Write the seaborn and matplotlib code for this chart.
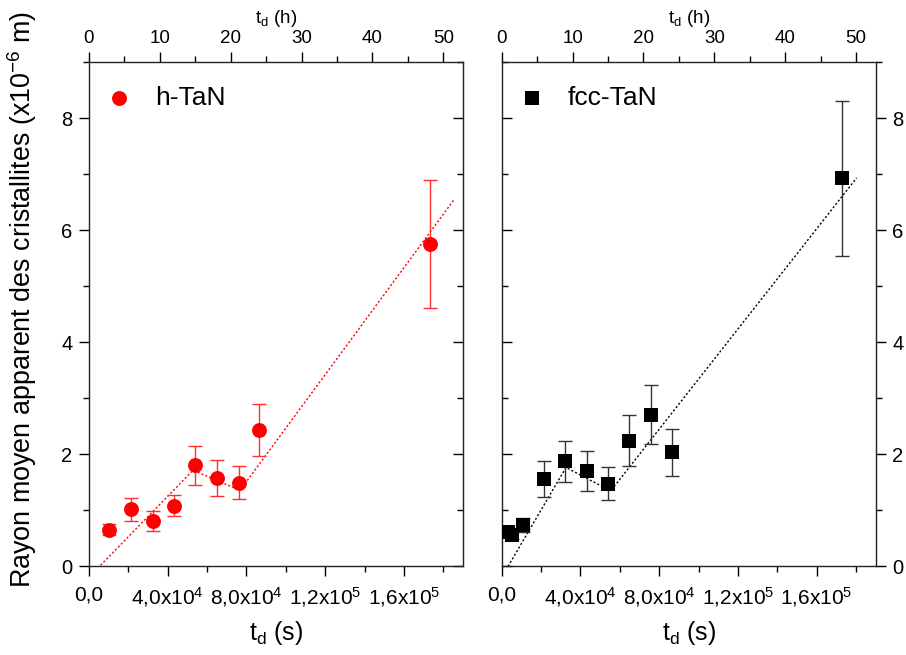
import matplotlib
matplotlib.use("Agg")
import matplotlib.pyplot as plt
import seaborn as sns
import pandas as pd
from matplotlib.ticker import MultipleLocator, FixedLocator, FixedFormatter

# ---- data ----
h_t = [10400, 21100, 32500, 43000, 53800, 64800, 76000, 86200, 173000]
h_r = [0.65, 1.01, 0.81, 1.08, 1.80, 1.57, 1.49, 2.43, 5.75]
h_err = [0.10, 0.20, 0.18, 0.19, 0.35, 0.32, 0.29, 0.47, 1.15]
h_fit_t = [0, 52840, 76700, 185400]
h_fit_r = [-0.2, 1.71, 1.35, 6.54]

f_t = [3350, 5080, 10670, 21490, 32150, 43170, 53840, 64810, 75680, 86350, 172700]
f_r = [0.61, 0.55, 0.73, 1.55, 1.87, 1.70, 1.47, 2.24, 2.70, 2.03, 6.92]
f_err = [0.06, 0.06, 0.12, 0.32, 0.37, 0.36, 0.29, 0.46, 0.53, 0.42, 1.39]
f_fit_t = [0, 32660, 55360, 180300]
f_fit_r = [-0.2, 1.76, 1.34, 6.93]

x_ticks = [0, 40000, 80000, 120000, 160000]
x_labels = ["0,0", "4,0x10$^4$", "8,0x10$^4$", "1,2x10$^5$", "1,6x10$^5$"]
h_ticks = [0, 10, 20, 30, 40, 50]
y_ticks = [0, 2, 4, 6, 8]

sns.set_style("ticks")
plt.rcParams['font.family'] = ['Liberation Sans', 'DejaVu Sans']
plt.rcParams['mathtext.fontset'] = 'custom'
plt.rcParams['mathtext.rm'] = 'Liberation Sans'
plt.rcParams['mathtext.it'] = 'Liberation Sans'
plt.rcParams['mathtext.default'] = 'regular'
plt.rcParams['text.color'] = 'black'
plt.rcParams['xtick.color'] = 'black'
plt.rcParams['ytick.color'] = 'black'
plt.rcParams['axes.labelcolor'] = 'black'

fig = plt.figure(figsize=(9.06, 6.55), dpi=100)
W, H = 906, 655
def rect(x0, y0, x1, y1):
    return [x0 / W, 1 - y1 / H, (x1 - x0) / W, (y1 - y0) / H]

ax1 = fig.add_axes(rect(89, 62, 463, 566))
ax2 = fig.add_axes(rect(501.7, 62, 875.7, 566))

panels = [
    (ax1, h_t, h_r, h_err, h_fit_t, h_fit_r, "h-TaN", "o", "#ff0000", "#ff3030", 115, "left"),
    (ax2, f_t, f_r, f_err, f_fit_t, f_fit_r, "fcc-TaN", "s", "#000000", "#333333", 100, "right"),
]

for ax, t, r, e, ft, fr, lab, mk, col, ecol, ms, side in panels:
    df = pd.DataFrame({"t": t, "r": r})
    fit = pd.DataFrame({"t": ft, "r": fr})
    sns.lineplot(data=fit, x="t", y="r", sort=False, ax=ax, color=col,
                 linestyle=(0, (1.5, 1.5)), linewidth=1.0, legend=False)
    ax.errorbar(t, r, yerr=e, fmt="none", ecolor=ecol, elinewidth=1.0,
                capsize=5, capthick=1.0, zorder=3)
    sns.scatterplot(data=df, x="t", y="r", ax=ax, marker=mk, s=ms, color=col,
                    edgecolor=col, linewidth=0, label=lab, zorder=4)
    ax.set_xlim(0, 190000)
    ax.set_ylim(0, 9)
    ax.xaxis.set_major_locator(FixedLocator(x_ticks))
    ax.xaxis.set_major_formatter(FixedFormatter(x_labels))
    ax.xaxis.set_minor_locator(MultipleLocator(20000))
    ax.yaxis.set_major_locator(FixedLocator(y_ticks))
    ax.yaxis.set_minor_locator(MultipleLocator(1))
    ax.set_xlabel("t$_d$ (s)", fontsize=18, labelpad=7)
    ax.set_ylabel("")
    ax.tick_params(axis="x", which="major", direction="out", length=7, width=1,
                   labelsize=15, top=False, pad=7)
    ax.tick_params(axis="x", which="minor", direction="out", length=4, width=1, top=False)
    for sp in ax.spines.values():
        sp.set_linewidth(1.0)
        sp.set_color("#222222")
    other = "right" if side == "left" else "left"
    if side == "left":
        ax.tick_params(axis="y", which="both", left=True, right=False,
                       labelleft=True, labelright=False, direction="out")
    else:
        ax.tick_params(axis="y", which="both", left=False, right=True,
                       labelleft=False, labelright=True, direction="out")
    ax.tick_params(axis="y", which="major", length=7, width=1, labelsize=14.5, pad=5)
    ax.tick_params(axis="y", which="minor", length=4, width=1)
    sec_y = ax.secondary_yaxis(other)
    sec_y.yaxis.set_major_locator(FixedLocator(y_ticks))
    sec_y.yaxis.set_minor_locator(MultipleLocator(1))
    sec_y.tick_params(axis="y", which="major", direction="in", length=7, width=1, labelleft=False, labelright=False)
    sec_y.tick_params(axis="y", which="minor", direction="in", length=4, width=1)
    sec_y.spines[other].set_visible(False)
    sec = ax.secondary_xaxis("top", functions=(lambda s: s / 3600.0, lambda hh: hh * 3600.0))
    sec.xaxis.set_major_locator(FixedLocator(h_ticks))
    sec.xaxis.set_minor_locator(MultipleLocator(5))
    sec.tick_params(axis="x", which="major", direction="out", length=7, width=1, labelsize=13.5, pad=4)
    sec.tick_params(axis="x", which="minor", direction="out", length=4, width=1)
    sec.spines["top"].set_visible(False)
    sec.set_xlabel("t$_d$ (h)", fontsize=13.5, labelpad=5)
    ax.legend(loc="upper left", bbox_to_anchor=(0.045, 0.952), frameon=False,
              fontsize=19, handlelength=1.0, handletextpad=0.85,
              borderpad=0, borderaxespad=0)

fig.text(22 / W, 0.542, "Rayon moyen apparent des cristallites (x10$^{-6}$ m)",
         rotation=90, ha="center", va="center", fontsize=19.4)

fig.savefig("out.png", dpi=100)
